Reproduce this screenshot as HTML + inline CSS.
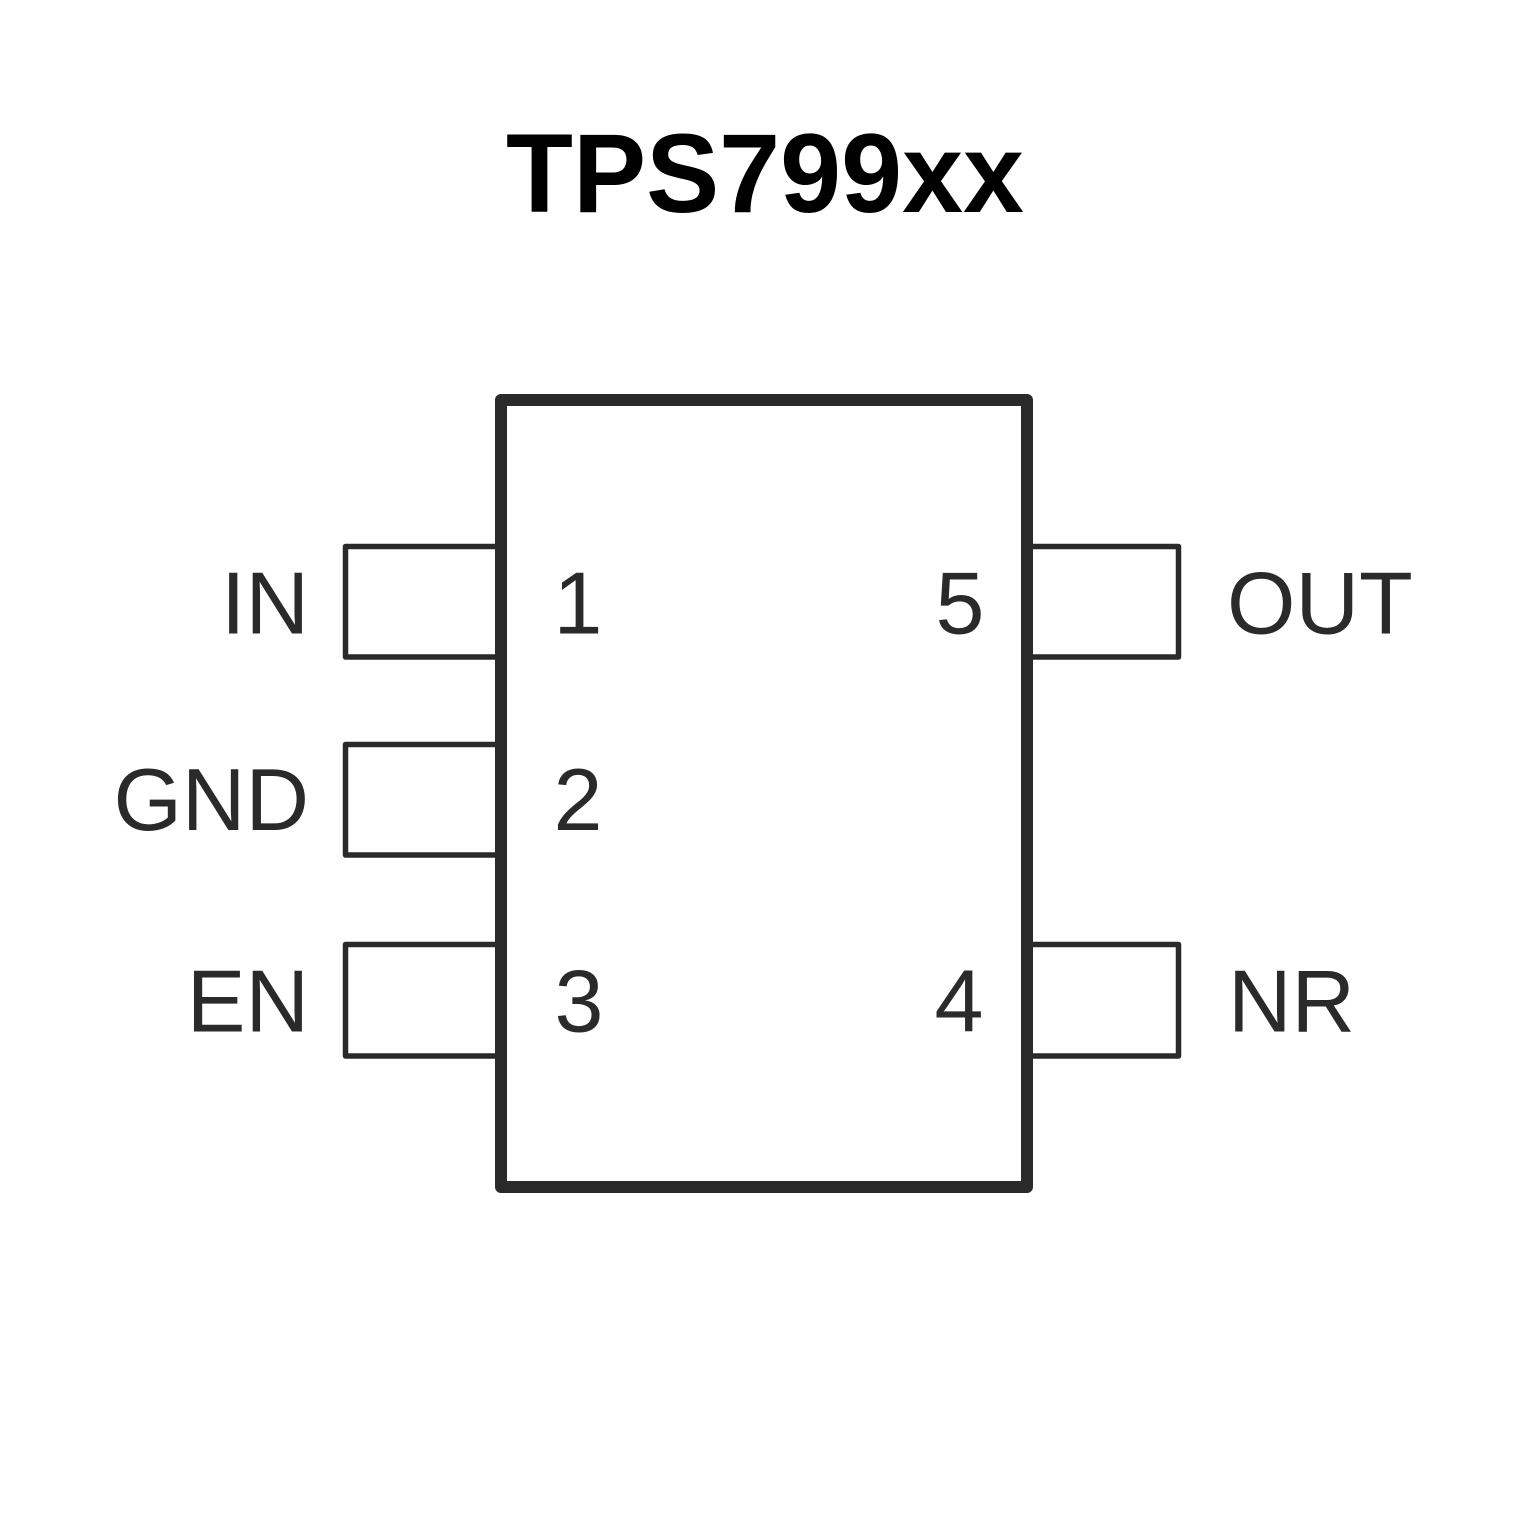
<!DOCTYPE html>
<html>
<head>
<meta charset="utf-8">
<style>
  html, body { margin: 0; padding: 0; background: #ffffff; }
  svg { display: block; }
</style>
</head>
<body>
<svg width="1535" height="1535" viewBox="0 0 1535 1535" xmlns="http://www.w3.org/2000/svg">
  <rect x="0" y="0" width="1535" height="1535" fill="#ffffff"/>

  <!-- Title -->
  <text x="506" y="212" font-family="'Liberation Sans', 'DejaVu Sans', sans-serif" font-weight="bold" font-size="112" fill="#000000" textLength="518" lengthAdjust="spacingAndGlyphs">TPS799xx</text>

  <g fill="none" stroke="#2b2a2b" stroke-linejoin="round">
    <!-- Left pins -->
    <rect x="345.5" y="546.5" width="156" height="110.5" stroke-width="5.5"/>
    <rect x="345.5" y="744.5" width="156" height="110.5" stroke-width="5.5"/>
    <rect x="345.5" y="944.5" width="156" height="111.5" stroke-width="5.5"/>
    <!-- Right pins -->
    <rect x="1027" y="546.5" width="151.5" height="110.5" stroke-width="5.5"/>
    <rect x="1027" y="944.5" width="151.5" height="111.5" stroke-width="5.5"/>
  </g>

  <!-- Package body (white fill covers pin inner edges) -->
  <rect x="501" y="400" width="526" height="787" fill="#ffffff" stroke="#2b2a2b" stroke-width="12" stroke-linejoin="round"/>

  <g font-family="'Liberation Sans', Arial, sans-serif" font-size="88" fill="#2b2a2b">
    <!-- Left labels -->
    <text x="309" y="633.5" text-anchor="end">IN</text>
    <text x="309" y="830" text-anchor="end">GND</text>
    <text x="309" y="1031.5" text-anchor="end">EN</text>
    <!-- Left pin numbers -->
    <text x="578" y="633.5" text-anchor="middle">1</text>
    <text x="578" y="830" text-anchor="middle">2</text>
    <text x="579" y="1031.5" text-anchor="middle">3</text>
    <!-- Right pin numbers -->
    <text x="960" y="633.5" text-anchor="middle">5</text>
    <text x="959" y="1031.5" text-anchor="middle">4</text>
    <!-- Right labels -->
    <text x="1227" y="633.5">OUT</text>
    <text x="1228" y="1031.5">NR</text>
  </g>
</svg>
</body>
</html>
